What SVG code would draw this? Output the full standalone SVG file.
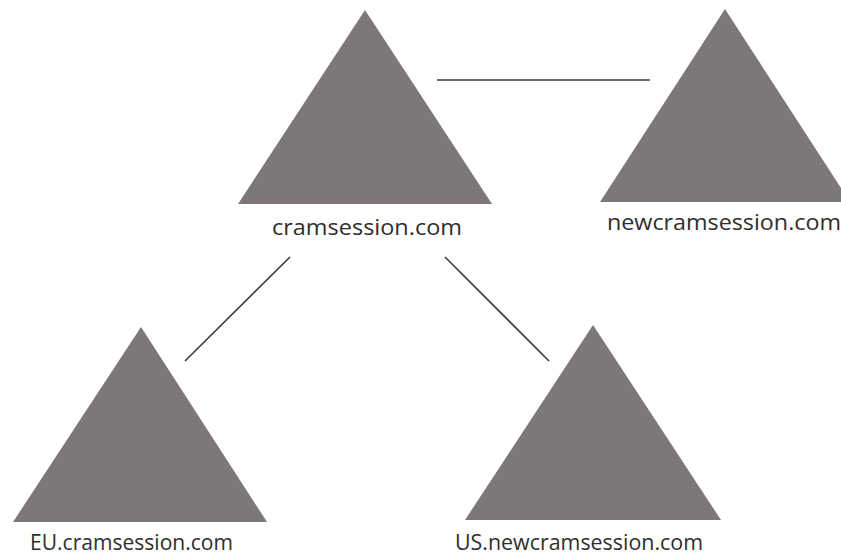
<svg xmlns="http://www.w3.org/2000/svg" width="841" height="557" viewBox="0 0 841 557">
  <style>
    .tri { fill: #7d7777; }
    .lbl { font-family: "Open Sans", "Liberation Sans", sans-serif; font-size: 22px; fill: #2e2e2e; }
    .low { font-size: 21px; }
    .link { stroke: #3a3a3a; stroke-width: 1.6; fill: none; }
  </style>
  <rect width="841" height="557" fill="#ffffff"/>

  <!-- domain trees -->
  <g id="cramsession">
    <polygon class="tri" points="365,10 238,204 492,204"/>
    <text class="lbl" x="272" y="235" textLength="190" lengthAdjust="spacingAndGlyphs">cramsession.com</text>
  </g>
  <g id="newcramsession">
    <polygon class="tri" points="725,9 600,202 850,202"/>
    <text class="lbl" x="607" y="230" textLength="234" lengthAdjust="spacingAndGlyphs">newcramsession.com</text>
  </g>
  <g id="eu-cramsession">
    <polygon class="tri" points="141,327 13,522 267,522"/>
    <text class="lbl low" x="30" y="550" textLength="203" lengthAdjust="spacingAndGlyphs">EU.cramsession.com</text>
  </g>
  <g id="us-newcramsession">
    <polygon class="tri" points="593,325 465,520 721,520"/>
    <text class="lbl low" x="455" y="550" textLength="248" lengthAdjust="spacingAndGlyphs">US.newcramsession.com</text>
  </g>

  <!-- trust links -->
  <g id="connectors">
    <line class="link" x1="437" y1="80" x2="650" y2="80"/>
    <line class="link" x1="290" y1="257" x2="185" y2="361"/>
    <line class="link" x1="445" y1="257" x2="549" y2="361"/>
  </g>
</svg>
